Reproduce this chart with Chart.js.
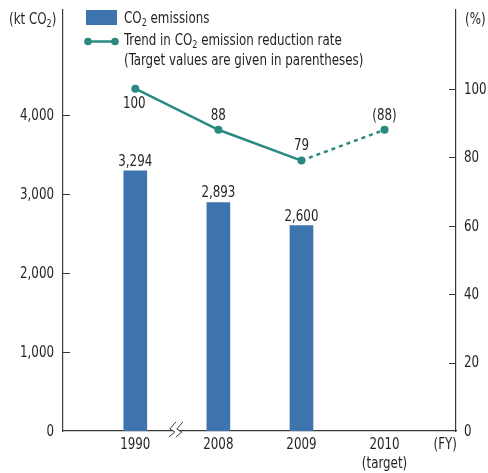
<!DOCTYPE html>
<html>
<head>
<meta charset="utf-8">
<script src="https://cdn.jsdelivr.net/npm/chart.js@4/dist/chart.umd.min.js"></script>
<style>
  html, body { margin: 0; padding: 0; background: #fff; }
  #wrap { width: 488px; height: 473px; position: relative; }
</style>
</head>
<body>
<div id="wrap"><canvas id="c" width="488" height="473"></canvas></div>
<script>
// Fiscal years on the horizontal axis
const years = ['1990', '2008', '2009', ['2010', '(target)']];
// CO2 emissions (kt CO2)
const emissions = [3294, 2893, 2600, null];
// Emission reduction rate trend (%), last value is the target
const reductionRate = [100, 88, 79, 88];
const targetIndex = 3;
// Axis ticks
const leftTicks = [0, 1000, 2000, 3000, 4000];
const rightTicks = [0, 20, 40, 60, 80, 100];

const FONT = "'DejaVu Sans Condensed', 'DejaVu Sans', sans-serif";
const SIZE = 15;
const SQUEEZE = 0.88;   // horizontal compression for a narrow typeface look
const TEXT = '#231f20';
const BAR = '#3d74ad';
const TEAL = '#2a8a7f';
const AXIS = '#3a3a3a';

const fmt = v => v.toLocaleString('en-US');

// draws text (with optional subscript parts) horizontally condensed
// parts = [[text, isSub], ...]
function drawText(ctx, parts, x, y, align) {
  if (typeof parts === 'string') parts = [[parts, false]];
  ctx.save();
  ctx.textBaseline = 'middle';
  ctx.textAlign = 'left';
  ctx.fillStyle = TEXT;
  let total = 0;
  for (const [t, sub] of parts) {
    ctx.font = (sub ? SIZE * 0.68 : SIZE) + 'px ' + FONT;
    total += ctx.measureText(t).width;
  }
  ctx.translate(x, y);
  ctx.scale(SQUEEZE, 1);
  let cx = align === 'right' ? -total : align === 'center' ? -total / 2 : 0;
  for (const [t, sub] of parts) {
    ctx.font = (sub ? SIZE * 0.68 : SIZE) + 'px ' + FONT;
    ctx.fillText(t, cx, sub ? SIZE * 0.3 : 0);
    cx += ctx.measureText(t).width;
  }
  ctx.restore();
}

const xTickValues = [0, 1, 2, 3, 3.73];
const xTickLabels = years.concat(['(FY)']);

const decorations = {
  id: 'decorations',
  afterDraw(chart) {
    const ctx = chart.ctx;
    const area = chart.chartArea;
    const yL = chart.scales.y, yR = chart.scales.y2, x = chart.scales.x;

    // inward tick marks
    ctx.save();
    ctx.strokeStyle = AXIS;
    ctx.lineWidth = 1;
    ctx.beginPath();
    leftTicks.forEach(v => {
      if (v === 0) return;
      const py = Math.round(yL.getPixelForValue(v)) + 0.5;
      ctx.moveTo(area.left, py); ctx.lineTo(area.left + 7, py);
    });
    rightTicks.forEach(v => {
      if (v === 0) return;
      const py = Math.round(yR.getPixelForValue(v)) + 0.5;
      ctx.moveTo(area.right - 7, py); ctx.lineTo(area.right, py);
    });
    ctx.stroke();

    // axis break between 1990 and 2008
    const bx = (x.getPixelForValue(0) + x.getPixelForValue(1)) / 2 - 1;
    const by = area.bottom;
    ctx.fillStyle = '#fff';
    ctx.fillRect(bx - 3, by - 2, 6, 4);
    ctx.strokeStyle = AXIS;
    ctx.lineWidth = 1;
    ctx.beginPath();
    [-4, 3].forEach(dx => {
      const x0 = bx + dx;
      ctx.moveTo(x0 + 4, by - 9);
      ctx.lineTo(x0 - 2, by - 2);
      ctx.lineTo(x0 + 3, by + 1);
      ctx.lineTo(x0 - 3, by + 6);
    });
    ctx.stroke();
    ctx.restore();

    // tick labels
    leftTicks.forEach(v => drawText(ctx, fmt(v), area.left - 9, yL.getPixelForValue(v) + 1, 'right'));
    rightTicks.forEach(v => drawText(ctx, String(v), area.right + 8, yR.getPixelForValue(v) + 1, 'left'));
    xTickValues.forEach((v, i) => {
      const px = x.getPixelForValue(v);
      const lab = xTickLabels[i];
      const lines = Array.isArray(lab) ? lab : [lab];
      lines.forEach((l, j) => drawText(ctx, l, px, area.bottom + 14 + j * 19, 'center'));
    });

    // value labels on bars
    const barMeta = chart.getDatasetMeta(0);
    barMeta.data.forEach((el, i) => {
      if (emissions[i] == null) return;
      drawText(ctx, fmt(emissions[i]), el.x, el.y - 9, 'center');
    });

    // value labels on the trend line
    const lineMeta = chart.getDatasetMeta(1);
    lineMeta.data.forEach((el, i) => {
      const label = i === targetIndex ? '(' + reductionRate[i] + ')' : String(reductionRate[i]);
      if (i === 0) drawText(ctx, label, el.x - 1, el.y + 15, 'center');
      else drawText(ctx, label, el.x, el.y - 14, 'center');
    });

    // axis unit titles
    drawText(ctx, [['(kt CO', false], ['2', true], [')', false]], 9, 20, 'left');
    drawText(ctx, '(%)', 465, 20, 'left');

    // legend
    ctx.save();
    ctx.fillStyle = BAR;
    ctx.fillRect(86, 10, 31, 15);
    ctx.strokeStyle = TEAL;
    ctx.fillStyle = TEAL;
    ctx.lineWidth = 2.5;
    ctx.beginPath(); ctx.moveTo(88, 41.5); ctx.lineTo(115, 41.5); ctx.stroke();
    [88, 115].forEach(cx => { ctx.beginPath(); ctx.arc(cx, 41.5, 3.8, 0, Math.PI * 2); ctx.fill(); });
    ctx.restore();
    drawText(ctx, [['CO', false], ['2', true], [' emissions', false]], 124, 19, 'left');
    drawText(ctx, [['Trend in CO', false], ['2', true], [' emission reduction rate', false]], 124, 41, 'left');
    drawText(ctx, '(Target values are given in parentheses)', 124, 61.5, 'left');
  }
};

new Chart(document.getElementById('c'), {
  type: 'bar',
  data: {
    datasets: [
      {
        type: 'bar',
        label: 'CO2 emissions',
        data: emissions.map((v, i) => ({ x: i, y: v })),
        backgroundColor: BAR,
        barThickness: 23,
        yAxisID: 'y',
        order: 2
      },
      {
        type: 'line',
        label: 'Trend in CO2 emission reduction rate',
        data: reductionRate.map((v, i) => ({ x: i, y: v })),
        borderColor: TEAL,
        backgroundColor: TEAL,
        borderWidth: 2.5,
        pointRadius: 4,
        pointBackgroundColor: TEAL,
        pointBorderWidth: 0,
        fill: false,
        tension: 0,
        yAxisID: 'y2',
        order: 1,
        segment: {
          borderDash: c => (c.p1DataIndex === targetIndex ? [4, 4] : undefined)
        }
      }
    ]
  },
  options: {
    responsive: false,
    animation: false,
    layout: { padding: { top: 10, left: 0, right: 0, bottom: 0 } },
    plugins: { legend: { display: false }, tooltip: { enabled: false } },
    scales: {
      x: {
        type: 'linear',
        offset: false,
        min: -0.87,
        max: 3.86,
        grid: { display: false, drawTicks: false },
        border: { display: true, color: AXIS, width: 1.2 },
        afterBuildTicks: s => { s.ticks = xTickValues.map(v => ({ value: v })); },
        afterFit: s => { s.height = 42; },
        ticks: { display: false }
      },
      y: {
        position: 'left',
        min: 0,
        max: 5330,
        grid: { display: false, drawTicks: false },
        border: { display: true, color: AXIS, width: 1.2 },
        afterBuildTicks: s => { s.ticks = leftTicks.map(v => ({ value: v })); },
        afterFit: s => { s.width = 63; },
        ticks: { display: false }
      },
      y2: {
        position: 'right',
        min: 0,
        max: 123,
        grid: { display: false, drawTicks: false },
        border: { display: true, color: AXIS, width: 1.2 },
        afterBuildTicks: s => { s.ticks = rightTicks.map(v => ({ value: v })); },
        afterFit: s => { s.width = 32; },
        ticks: { display: false }
      }
    }
  },
  plugins: [decorations]
});
</script>
</body>
</html>
